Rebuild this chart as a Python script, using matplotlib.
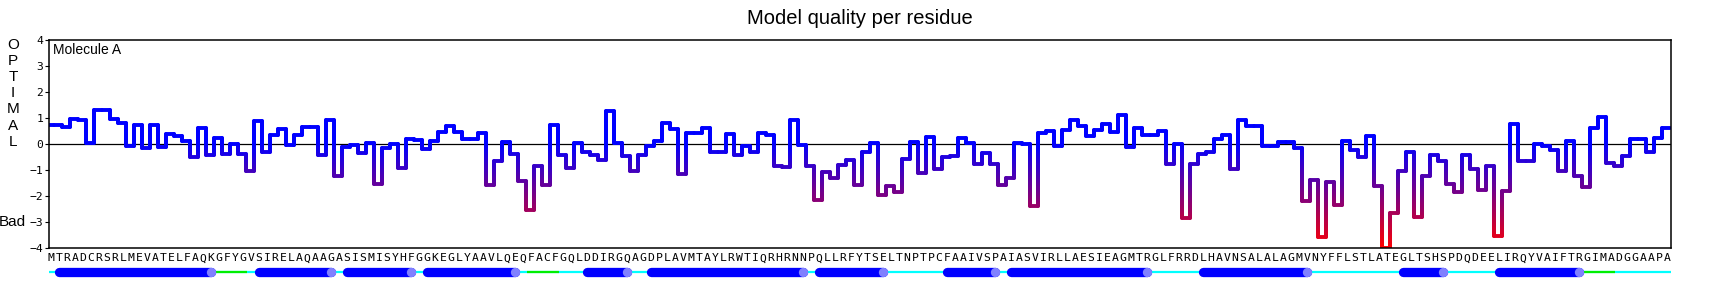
#import python libraries
import numpy as np
import matplotlib
matplotlib.use("Agg")
import matplotlib.pyplot as plt
from matplotlib.collections import LineCollection
from matplotlib.colors import LinearSegmentedColormap, Normalize

#sequence of molecule A
sequence = ("MTRADCRSRLMEVATELFAQKGFYGVSIRELAQAAGASISMISYHFGGKEGLYAAVLQEQ"
            "FACFGQLDDIRGQAGDPLAVMTAYLRWTIQRHRNNPQLLRFYTSELTNPTPCFAAIVSPA"
            "IASVIRLLAESIEAGMTRGLFRRDLHAVNSALALAGMVNYFFLSTLATEGLTSHSPDQDE"
            "ELIRQYVAIFTRGIMADGGAAPA")

#local quality score per residue
quality = [0.73, 0.73, 0.64, 0.97, 0.91, 0.04, 1.31, 1.31, 0.97, 0.81,
           -0.09, 0.74, -0.15, 0.74, -0.12, 0.40, 0.32, 0.10, -0.50, 0.62,
           -0.41, 0.23, -0.38, 0.00, -0.37, -1.05, 0.87, -0.31, 0.36, 0.59,
           -0.05, 0.36, 0.64, 0.64, -0.41, 0.94, -1.24, -0.12, -0.03, -0.35,
           0.04, -1.54, -0.15, 0.00, -0.92, 0.20, 0.17, -0.19, 0.13, 0.46,
           0.68, 0.45, 0.20, 0.20, 0.42, -1.58, -0.67, 0.08, -0.38, -1.44,
           -2.53, -0.86, -1.59, 0.74, -0.41, -0.92, 0.04, -0.32, -0.41, -0.60,
           1.28, 0.04, -0.45, -1.05, -0.44, -0.09, 0.13, 0.81, 0.58, -1.15,
           0.42, 0.42, 0.62, -0.29, -0.29, 0.38, -0.44, -0.06, -0.29, 0.42,
           0.36, -0.83, -0.87, 0.94, -0.03, -0.83, -2.15, -1.09, -1.31, -0.79,
           -0.60, -1.58, -0.31, 0.04, -1.95, -1.63, -1.85, -0.56, 0.08, -1.12,
           0.27, -0.95, -0.51, -0.47, 0.23, 0.04, -0.76, -0.35, -0.76, -1.59,
           -1.31, 0.04, 0.00, -2.40, 0.42, 0.51, -0.09, 0.55, 0.91, 0.68,
           0.29, 0.55, 0.77, 0.45, 1.12, -0.12, 0.62, 0.36, 0.36, 0.49,
           -0.76, 0.00, -2.85, -0.76, -0.38, -0.29, 0.20, 0.36, -0.96, 0.91,
           0.68, 0.68, -0.06, -0.06, 0.08, 0.08, -0.15, -2.18, -1.37, -3.58,
           -1.46, -2.33, 0.13, -0.22, -0.51, 0.32, -1.63, -4.00, -2.65, -1.03,
           -0.31, -2.81, -1.24, -0.44, -0.67, -1.54, -1.85, -0.41, -0.95, -1.76,
           -0.83, -3.53, -1.82, 0.78, -0.64, -0.64, 0.00, -0.09, -0.22, -1.05,
           0.13, -1.24, -1.67, 0.62, 1.04, -0.73, -0.86, -0.47, 0.20, 0.20,
           -0.31, 0.23, 0.62]

#secondary structure: helices (first, last residue) and turns
helix_start = [2, 27, 38, 48, 68, 76, 97, 113, 121, 145, 170, 182]
helix_end = [21, 36, 46, 59, 73, 95, 105, 119, 138, 158, 175, 192]
turn_start = [22, 61, 193]
turn_end = [25, 64, 196]

n = len(sequence)
residues = np.arange(1, n + 1)
values = np.array(quality)

fig = plt.figure(figsize=(17.2, 2.88), dpi=100)
ax = fig.add_axes([49.3 / 1720, 40 / 288, 1621.7 / 1720, 208 / 288])

#step line, split into small pieces so the colour follows the score
xs = residues - 0.16
pts = []
for i in range(n):
    pts.append((xs[i] - 0.5, values[i]))
    pts.append((xs[i] + 0.5, values[i]))
pieces = []
for (x0, y0), (x1, y1) in zip(pts[:-1], pts[1:]):
    k = max(1, int(abs(y1 - y0) / 0.04))
    for j in range(k):
        a = j / k
        b = (j + 1) / k
        pieces.append([(x0 + (x1 - x0) * a, y0 + (y1 - y0) * a),
                       (x0 + (x1 - x0) * b, y0 + (y1 - y0) * b)])
mid_y = np.array([(p[0][1] + p[1][1]) / 2 for p in pieces])
cmap = LinearSegmentedColormap.from_list("quality", ["#ff0000", "#0000ff"])
lc = LineCollection(pieces, cmap=cmap, norm=Normalize(-4, 0),
                    linewidths=2.8, capstyle="round", joinstyle="round")
lc.set_array(np.clip(mid_y, -4, 0))
ax.add_collection(lc)

ax.axhline(0, color="black", lw=0.9, zorder=1)
ax.set_xlim(0.79, 203.5)
ax.set_ylim(-4, 4)

#axis styling
for s in ax.spines.values():
    s.set_linewidth(1.1)
ax.set_yticks(range(-4, 5))
ax.set_yticklabels([str(t).replace("-", "\u2212") for t in range(-4, 5)],
                   family="DejaVu Sans Mono", fontsize=8.2)
ax.tick_params(axis="y", length=3, width=0.8, pad=1.2)
ax.set_xticks(residues)
ax.set_xticklabels(list(sequence), family="DejaVu Sans Mono", fontsize=8.2)
ax.tick_params(axis="x", length=0, pad=3.8)

ax.text(0.0025, 0.985, "Molecule A", transform=ax.transAxes, ha="left",
        va="top", fontsize=10, family="Liberation Sans")

#labels on the left side
fig.text(0.5, 1 - 18.6 / 288, "Model quality per residue", ha="center",
         va="center", fontsize=14.5, family="Liberation Sans")
for k, ch in enumerate("OPTIMAL"):
    fig.text(13 / 1720, 1 - (45 + 16.1 * k) / 288, ch, ha="center",
             va="center", fontsize=11, family="Liberation Sans")
fig.text(12.5 / 1720, 1 - 222 / 288, "Bad", ha="center", va="center",
         fontsize=11, family="Liberation Sans")

#secondary structure track
ax2 = fig.add_axes([49.3 / 1720, 1 - 282 / 288, 1621.7 / 1720, 20 / 288])
ax2.set_xlim(0.79, 203.5)
ax2.set_ylim(-1, 1)
ax2.axis("off")
ax2.plot([0.6, 203.6], [0, 0], color="#00ffff", lw=1.6, solid_capstyle="butt")
for s, e in zip(turn_start, turn_end):
    ax2.plot([s - 0.5, e + 0.5], [0, 0], color="#00ee00", lw=1.6,
             solid_capstyle="butt")
for s, e in zip(helix_start, helix_end):
    ax2.plot([s, e], [0, 0], color="#0000ff", lw=6.7, solid_capstyle="round")
    ax2.plot([e], [0], "o", color="#8080ff", markersize=6.7,
             markeredgewidth=0)

plt.savefig("out.png", dpi=100)
plt.close()
